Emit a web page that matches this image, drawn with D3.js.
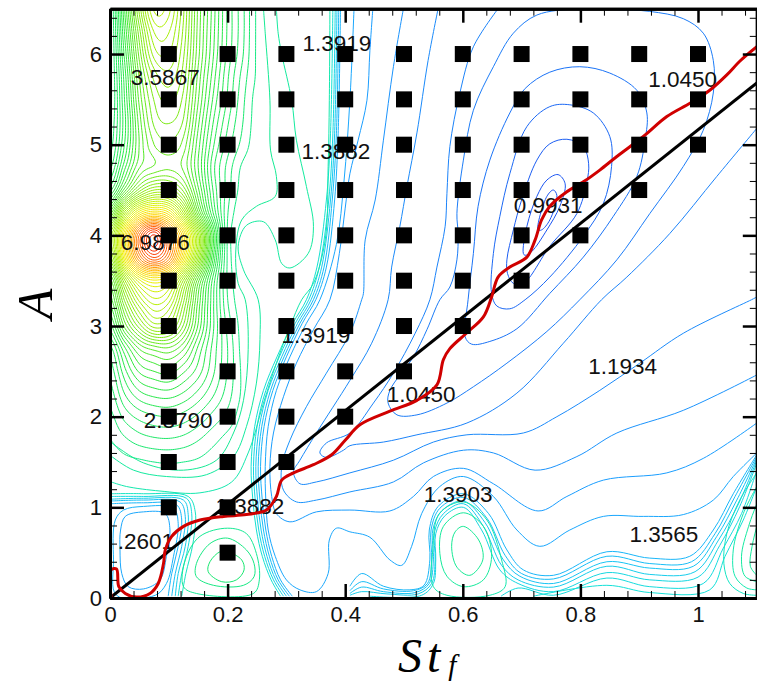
<!DOCTYPE html>
<html><head><meta charset="utf-8">
<script src="https://cdnjs.cloudflare.com/ajax/libs/d3/7.8.5/d3.min.js"></script>
<style>html,body{margin:0;background:#fff}svg{display:block}</style></head>
<body><svg id="c" width="757" height="683"></svg>
<script>
// Axis extents and ticks
const stDomain=[0,1.1], aDomain=[0,6.5];
const stMajor=[0,0.2,0.4,0.6,0.8,1];
const aMajor=[0,1,2,3,4,5,6];
const stMinor=[0.04,0.08,0.12,0.16,0.24,0.28,0.32,0.36,0.44,0.48,0.52,0.56,0.64,0.68,0.72,0.76,0.84,0.88,0.92,0.96,1.04,1.08];
const aMinor=[0.2,0.4,0.6,0.8,1.2,1.4,1.6,1.8,2.2,2.4,2.6,2.8,3.2,3.4,3.6,3.8,4.2,4.4,4.6,4.8,5.2,5.4,5.6,5.8,6.2,6.4];

// Sampled cases: St value and lowest A, up to A=6 every 0.5
const caseSt=[0.1,0.2,0.3,0.4,0.5,0.6,0.7,0.8,0.9,1.0];
const caseAmin=[1,0.5,1.5,2,2.5,3,3.5,4,4.5,5];

// Scalar field for the left high region, St=0..0.3 (step .025), A=6.5..1 (step .25)
const fieldSt=[0,.025,.05,.075,.1,.125,.15,.175,.2,.225,.25,.275,.3];
const fieldA=[6.5,6.25,6,5.75,5.5,5.25,5,4.75,4.5,4.25,4,3.75,3.5,3.25,3,2.75,2.5,2.25,2,1.75,1.5,1.25,1];
const fieldRows=[
[1.6,2.6,3.6,4.3,4.2,3.7,3.05,2.55,2.1,1.8,1.5,1.42,1.4],
[1.6,2.5,3.4,4.05,4.05,3.65,3.03,2.53,2.1,1.8,1.5,1.42,1.4],
[1.6,2.4,3.25,3.85,3.92,3.58,3.0,2.5,2.08,1.78,1.5,1.42,1.4],
[1.6,2.3,3.1,3.6,3.75,3.5,2.92,2.43,2.02,1.72,1.5,1.42,1.4],
[1.6,2.25,3.0,3.45,3.6,3.4,2.85,2.35,1.98,1.68,1.47,1.42,1.4],
[1.65,2.2,2.9,3.35,3.45,3.3,2.75,2.25,1.9,1.65,1.46,1.42,1.4],
[1.7,2.25,2.85,3.2,3.3,3.15,2.65,2.15,1.82,1.6,1.45,1.42,1.4],
[1.85,2.45,2.95,3.1,3.17,3.05,2.6,2.05,1.72,1.5,1.44,1.42,1.4],
[2.2,2.9,3.5,3.8,3.75,3.4,2.75,2.12,1.7,1.47,1.43,1.41,1.4],
[3.0,4.1,4.85,5.1,4.9,4.15,3.1,2.25,1.65,1.43,1.42,1.41,1.4],
[3.85,5.0,6.1,6.7,6.0,5.15,4.0,2.65,1.62,1.42,1.42,1.41,1.4],
[3.6,4.85,5.85,6.3,5.9,4.95,3.8,2.5,1.62,1.42,1.42,1.41,1.4],
[2.9,3.9,4.6,4.85,4.65,3.9,3.0,2.2,1.62,1.43,1.42,1.41,1.4],
[2.6,3.4,4.0,4.3,4.15,3.55,2.8,2.15,1.65,1.45,1.42,1.41,1.4],
[2.3,3.0,3.5,3.85,3.75,3.3,2.7,2.15,1.72,1.47,1.42,1.41,1.4],
[1.95,2.45,2.85,3.0,3.05,2.85,2.45,2.08,1.76,1.48,1.43,1.41,1.39],
[1.8,2.2,2.5,2.6,2.65,2.5,2.3,2.03,1.75,1.5,1.44,1.4,1.38],
[1.7,2.0,2.2,2.28,2.3,2.22,2.08,1.9,1.7,1.5,1.44,1.38,1.36],
[1.6,1.8,1.92,1.98,2.0,1.95,1.85,1.72,1.6,1.46,1.42,1.36,1.3],
[1.52,1.62,1.7,1.74,1.75,1.72,1.65,1.56,1.48,1.42,1.38,1.3,1.2],
[1.44,1.48,1.5,1.52,1.53,1.52,1.5,1.46,1.42,1.38,1.34,1.22,1.15],
[1.42,1.42,1.42,1.42,1.42,1.42,1.42,1.42,1.41,1.38,1.3,1.15,1.1],
[1.3,1.3,1.3,1.3,1.3,1.3,1.3,1.3,1.35,1.3,1.2,1.1,1.05]];
const fieldLevelStart=1.52, fieldLevelEnd=7.0, fieldLevelStep=0.12;

// Contour lines: level, points [St,A]
const closedLines=[
[0.995,[[.728,4.06],[.743,4.43],[.754,4.50],[.760,4.44],[.748,4.17],[.734,4.06]]],
[1.0,[[.703,3.80],[.709,4.10],[.726,4.43],[.743,4.61],[.762,4.67],[.774,4.57],[.765,4.32],[.743,4.06],[.717,3.82],[.706,3.78]]],
[1.02,[[.675,3.73],[.686,4.06],[.700,4.39],[.726,4.83],[.748,5.01],[.777,5.06],[.805,4.98],[.814,4.79],[.811,4.59],[.794,4.24],[.748,3.88],[.703,3.47],[.686,3.47],[.676,3.58]]],
[1.045,[[.652,3.80],[.663,4.21],[.680,4.68],[.709,5.20],[.748,5.42],[.782,5.44],[.822,5.35],[.850,5.09],[.853,4.76],[.839,4.35],[.805,3.99],[.748,3.54],[.706,3.29],[.680,3.19],[.658,3.22],[.649,3.36]]],
[1.07,[[.706,5.62],[.748,5.80],[.799,5.86],[.850,5.79],[.896,5.60],[.913,5.35],[.910,5.05],[.896,4.65],[.856,4.21],[.805,3.76],[.748,3.36],[.692,2.97],[.646,2.83],[.615,2.80],[.604,2.88],[.609,3.29],[.618,3.80],[.626,4.32],[.646,4.83],[.680,5.35]]],
[1.09,[[.799,6.50],[.726,6.43],[.686,6.23],[.652,5.86],[.618,5.38],[.601,4.83],[.590,4.24],[.592,4.02],[.590,3.73],[.578,3.43],[.561,3.29],[.539,2.96],[.516,2.66],[.476,2.29],[.473,2.15],[.488,2.02],[.522,2.02],[.573,2.15],[.618,2.33],[.675,2.59],[.743,2.94],[.799,3.29],[.862,3.73],[.918,4.24],[.975,4.76],[1.009,5.16],[1.026,5.57],[1.026,5.93],[1.009,6.23],[.975,6.39],[.918,6.47],[.862,6.49]]],
[1.45,[[.601,.79],[.627,.64],[.634,.42],[.612,.25],[.590,.34],[.581,.57],[.587,.73]]],
[1.42,[[.601,.94],[.635,.79],[.649,.46],[.635,.20],[.601,.125],[.573,.24],[.561,.49],[.567,.79]]],
[1.39,[[.601,1.06],[.641,.86],[.666,.42],[.672,.125],[.646,.03],[.573,.03],[.550,.125],[.549,.53],[.560,.93]]],
[1.6,[[.2,.51],[.224,.42],[.228,.31],[.215,.20],[.19,.18],[.167,.29],[.17,.40],[.187,.51]]],
[1.52,[[.2,.66],[.17,.60],[.147,.38],[.147,.235],[.176,.14],[.227,.14],[.245,.235],[.245,.38],[.232,.53]]],
[1.45,[[.2,.77],[.153,.68],[.128,.42],[.125,.125],[.147,.05],[.244,.05],[.254,.2],[.249,.49],[.232,.71]]],
[1.22,[[.018,.75],[.026,.90],[.057,.95],[.094,.93],[.102,.75],[.096,.46],[.085,.20],[.057,.10],[.031,.125],[.02,.27],[.017,.53]]],
[1.25,[[.009,.86],[.023,.97],[.057,1.01],[.108,.99],[.116,.82],[.108,.46],[.096,.16],[.077,.03],[.011,.03],[.006,.42]]]
];
const openLines=[
[1.11,[[.660,6.5],[.618,6.08],[.595,5.57],[.578,4.98],[.573,4.46],[.570,4.10],[.556,3.65],[.544,3.29],[.519,2.92],[.482,2.48],[.448,2.15],[.408,1.82],[.368,1.71],[.357,1.60],[.368,1.55],[.397,1.63],[.408,1.68],[.465,1.72],[.522,1.80],[.607,1.93],[.692,2.26],[.771,2.81],[.836,3.29],[.879,3.54],[.952,4.02],[1.032,4.65],[1.10,5.18]]],
[1.13,[[.558,6.5],[.541,5.93],[.522,5.13],[.505,4.54],[.493,4.10],[.479,3.65],[.473,3.29],[.445,2.81],[.408,2.40],[.351,1.82],[.323,1.52],[.312,1.39],[.323,1.26],[.351,1.28],[.408,1.38],[.482,1.52],[.550,1.72],[.607,1.80],[.703,1.82],[.760,2.00],[.833,2.29],[.901,2.59],[.975,2.92],[1.091,3.29],[1.10,3.32]]],
[1.16,[[.499,6.5],[.482,5.86],[.465,5.05],[.451,4.39],[.434,3.95],[.431,3.36],[.428,3.29],[.408,2.92],[.368,2.48],[.334,2.11],[.306,1.74],[.292,1.45],[.295,1.19],[.317,1.06],[.351,1.08],[.408,1.17],[.482,1.28],[.533,1.49],[.601,1.63],[.652,1.60],[.723,1.41],[.794,1.56],[.862,1.82],[.975,2.07],[1.10,2.46]]],
[1.19,[[.447,6.5],[.442,6.04],[.437,5.49],[.422,5.05],[.408,4.68],[.40,4.3],[.39,3.8],[.374,3.29],[.346,2.96],[.317,2.59],[.295,2.22],[.278,1.82],[.272,1.45],[.275,1.12],[.283,.93],[.306,.84],[.351,.95],[.408,.97],[.476,.96],[.516,1.12],[.550,1.34],[.601,1.43],[.652,1.26],[.728,.96],[.777,1.12],[.839,1.30],[.947,1.38],[1.009,1.54],[1.10,1.93]]],
[1.22,[[.415,6.5],[.408,5.49],[.398,4.6],[.385,3.9],[.357,3.29],[.334,3.03],[.306,2.66],[.283,2.29],[.269,1.89],[.264,1.45],[.265,1.08],[.269,.75],[.281,.46],[.300,.20],[.323,.09],[.351,.07],[.371,.27],[.373,.64],[.385,.77],[.408,.73],[.442,.67],[.476,.42],[.496,.36],[.513,.57],[.530,.93],[.561,1.23],[.601,1.34],[.652,1.12],[.692,.75],[.731,.57],[.782,.75],[.839,.90],[.907,.90],[.975,.92],[1.026,1.08],[1.06,1.34],[1.10,1.60]]],
[1.26,[[.408,.13],[.428,.27],[.465,.13],[.510,.09],[.534,.14],[.544,.42],[.543,.75],[.558,1.01],[.601,1.15],[.644,.93],[.675,.53],[.703,.31],[.754,.25],[.845,.51],[.918,.44],[.986,.46],[1.026,.75],[1.06,1.15],[1.10,1.58]]],
[1.28,[[.408,.08],[.428,.18],[.465,.10],[.516,.08],[.540,.16],[.547,.42],[.546,.75],[.561,.99],[.601,1.11],[.641,.88],[.672,.47],[.700,.27],[.754,.21],[.845,.46],[.918,.38],[.989,.40],[1.029,.71],[1.063,1.12],[1.10,1.56]]],
[1.30,[[.408,.05],[.428,.12],[.465,.07],[.519,.06],[.543,.16],[.550,.42],[.549,.75],[.564,.96],[.601,1.07],[.638,.83],[.669,.42],[.697,.24],[.754,.16],[.845,.40],[.918,.33],[.992,.35],[1.032,.68],[1.066,1.08],[1.10,1.54]]],
[1.32,[[.408,.03],[.428,.07],[.471,.045],[.524,.045],[.547,.16],[.553,.42],[.552,.73],[.567,.93],[.601,1.04],[.635,.79],[.666,.36],[.694,.20],[.754,.12],[.845,.35],[.918,.26],[.995,.29],[1.035,.64],[1.069,1.04],[1.10,1.52]]],
[1.34,[[.442,.02],[.530,.03],[.550,.16],[.554,.42],[.554,.71],[.570,.91],[.601,1.0],[.632,.75],[.663,.31],[.694,.16],[.754,.07],[.845,.28],[.918,.20],[1.0,.23],[1.037,.58],[1.071,1.01],[1.10,1.49]]],
[1.35,[[.665,.02],[.694,.11],[.754,.03],[.845,.22],[.918,.125],[1.009,.16],[1.043,.55],[1.074,.93],[1.10,1.41]]],
[1.36,[[.72,.02],[.845,.14],[.918,.06],[1.02,.09],[1.046,.46],[1.077,.86],[1.10,1.23]]],
[1.375,[[1.10,1.38],[1.071,1.08],[1.049,.71],[1.044,.38],[1.054,.16],[1.077,.05],[1.10,.03]]],
[1.39,[[1.10,1.23],[1.077,.93],[1.06,.53],[1.063,.24],[1.083,.11],[1.10,.09]]],
[1.40,[[1.10,1.04],[1.086,.79],[1.074,.46],[1.08,.24],[1.10,.18]]],
[1.42,[[1.10,.79],[1.092,.57],[1.089,.35],[1.10,.25]]],
[1.25,[[.392,6.5],[.388,5.12],[.382,4.39],[.368,3.65],[.350,3.29],[.327,3.03],[.300,2.66],[.277,2.29],[.262,1.89],[.256,1.45],[.259,1.08],[.265,.75],[.275,.46],[.290,.2],[.31,.02]]],
[1.28,[[.389,6.5],[.385,5.12],[.378,4.39],[.364,3.65],[.346,3.29],[.323,3.03],[.296,2.66],[.273,2.29],[.258,1.89],[.252,1.45],[.255,1.08],[.261,.75],[.271,.46],[.286,.2],[.305,.02]]],
[1.31,[[.386,6.5],[.382,5.12],[.375,4.39],[.360,3.65],[.342,3.29],[.319,3.03],[.292,2.66],[.269,2.29],[.254,1.89],[.248,1.45],[.251,1.08],[.257,.75],[.267,.46],[.282,.2],[.300,.02]]],
[1.34,[[.383,6.5],[.379,5.12],[.372,4.39],[.356,3.65],[.338,3.29],[.315,3.03],[.288,2.66],[.265,2.29],[.250,1.89],[.244,1.45],[.247,1.08],[.253,.75],[.263,.46],[.278,.2],[.295,.02]]],
[1.365,[[.379,6.5],[.375,5.12],[.368,4.39],[.352,3.65],[.334,3.29],[.311,3.03],[.284,2.66],[.261,2.29],[.246,1.89],[.240,1.45],[.243,1.08],[.249,.75],[.259,.46],[.274,.2],[.290,.02]]],
[1.39,[[.374,6.5],[.373,5.49],[.371,4.76],[.366,3.95],[.346,3.47],[.326,3.29],[.306,2.99],[.283,2.59],[.261,2.15],[.235,1.60],[.207,1.28],[.153,1.16],[.085,1.18],[.028,1.23],[.002,1.28]]],
[1.41,[[.283,6.5],[.286,6.23],[.292,6.0],[.309,5.49],[.317,5.05],[.334,4.54],[.346,4.10],[.337,3.80],[.306,3.64],[.292,3.69],[.281,3.95],[.261,4.15],[.232,4.11],[.218,3.88],[.227,3.62],[.252,3.29],[.255,2.85],[.249,2.37],[.232,1.89],[.210,1.56],[.164,1.36],[.096,1.34],[.04,1.41],[.003,1.56]]],
[1.45,[[.261,6.5],[.264,6.23],[.272,5.49],[.273,4.94],[.283,4.65],[.281,4.43],[.249,4.32],[.224,4.17],[.214,3.84],[.218,3.47],[.230,3.29],[.235,2.74],[.227,2.18],[.21,1.82],[.181,1.52],[.125,1.41],[.057,1.49],[.003,1.71]]],
[1.26,[[.002,1.04],[.057,1.05],[.113,1.03],[.122,.86],[.116,.57],[.105,.27],[.099,.02]]],
[1.29,[[.002,1.07],[.057,1.08],[.119,1.06],[.128,.90],[.122,.57],[.111,.27],[.105,.02]]],
[1.32,[[.002,1.09],[.057,1.10],[.125,1.08],[.133,.92],[.128,.57],[.116,.27],[.111,.02]]],
[1.35,[[.002,1.12],[.057,1.12],[.130,1.10],[.139,.93],[.133,.57],[.122,.27],[.116,.02]]],
[1.375,[[.002,1.15],[.057,1.15],[.133,1.12],[.145,.95],[.141,.60],[.129,.27],[.122,.02]]]
];
// Colour map stops: level → colour
const levelStops=[.99,1.1,1.2,1.3,1.36,1.4,1.6,2.5,3.5,4.3,4.8,5.3,5.8,6.3,6.8];
const levelColors=["#1a50f0","#1c80f8","#1aa0ff","#18c4f4","#14e0d8","#14eaa0","#18e870","#2ce838","#80e810","#b8f000","#f0f000","#ffd000","#ff9000","#ff5000","#f01000"];

// Thick curves
const redCurve=[[.002,0],[.002,.31],[.011,.32],[.015,.125],[.026,.05],[.045,.01],[.068,.05],[.082,.16],[.091,.38],[.094,.53],[.105,.68],[.125,.79],[.153,.86],[.193,.90],[.232,.92],[.266,.97],[.283,1.12],[.292,1.30],[.312,1.38],[.346,1.47],[.377,1.58],[.400,1.74],[.425,1.91],[.476,2.06],[.522,2.18],[.556,2.35],[.567,2.63],[.578,2.75],[.606,2.92],[.635,3.10],[.649,3.32],[.660,3.54],[.680,3.65],[.709,3.76],[.723,3.95],[.734,4.17],[.748,4.32],[.777,4.48],[.805,4.59],[.833,4.72],[.862,4.87],[.907,5.09],[.947,5.31],[.987,5.46],[1.02,5.60],[1.049,5.77],[1.071,5.92],[1.10,6.08]];
const blackLine=[[0,0],[1.1,5.68]];

// Extremum labels
const labelText=["1.3919","3.5867","1.3882","1.0450","0.9931","6.9876","1.3919","1.1934","1.0450","2.8790","1.3903","1.3882","1.3565",".2601"];
const labelSt=[.386,.094,.384,.974,.745,.077,.35,.872,.529,.116,.592,.238,.942,.061];
const labelA=[6.12,5.74,4.93,5.72,4.33,3.92,2.90,2.56,2.25,1.96,1.15,1.01,0.70,0.63];

const W=757,H=683;
const x=d3.scaleLinear().domain(stDomain).range([110,756.8]);
const y=d3.scaleLinear().domain(aDomain).range([598,8.7]);
const color=d3.scaleLinear().domain(levelStops).range(levelColors).clamp(true);
const svg=d3.select("#c");
svg.append("defs").append("clipPath").attr("id","plot").append("rect")
  .attr("x",110).attr("y",8.7).attr("width",646.8).attr("height",589.3);
const plot=svg.append("g").attr("clip-path","url(#plot)");

// field contours with cubic upsampling of the read grid
const f=8, nc=fieldSt.length, nr=fieldA.length;
function cr(p0,p1,p2,p3,t){return p1+.5*t*(p2-p0+t*(2*p0-5*p1+4*p2-p3+t*(3*(p1-p2)+p3-p0)));}
const at=(r,c)=>fieldRows[Math.max(0,Math.min(nr-1,r))][Math.max(0,Math.min(nc-1,c))];
const gw=(nc-1)*f+1, gh=(nr-1)*f+1, grid=new Float64Array(gw*gh);
for(let j=0;j<gh;j++){const rr=j/f,r0=Math.min(nr-2,Math.floor(rr)),tr=rr-r0;
  for(let i=0;i<gw;i++){const cc=i/f,c0=Math.min(nc-2,Math.floor(cc)),tc=cc-c0;
    const row=k=>cr(at(r0+k,c0-1),at(r0+k,c0),at(r0+k,c0+1),at(r0+k,c0+2),tc);
    grid[j*gw+i]=cr(row(-1),row(0),row(1),row(2),tr);}}
const thresholds=d3.range(fieldLevelStart,fieldLevelEnd,fieldLevelStep);
const stStep=fieldSt[1]-fieldSt[0], aStep=fieldA[0]-fieldA[1];
const proj=d3.geoTransform({point(px,py){this.stream.point(x((px-.5)/f*stStep),y(fieldA[0]-(py-.5)/f*aStep));}});
const geo=d3.geoPath(proj);
plot.selectAll("path.fc").data(d3.contours().size([gw,gh]).thresholds(thresholds)(grid)).join("path")
  .attr("class","fc").attr("d",geo).attr("fill","none").attr("stroke",d=>color(d.value)).attr("stroke-width",1);

const lineOpen=d3.line().x(d=>x(d[0])).y(d=>y(d[1])).curve(d3.curveCatmullRom.alpha(.5));
const lineClosed=d3.line().x(d=>x(d[0])).y(d=>y(d[1])).curve(d3.curveCatmullRomClosed.alpha(.5));
plot.selectAll("path.ol").data(openLines).join("path").attr("class","ol").attr("d",d=>lineOpen(d[1]))
  .attr("fill","none").attr("stroke",d=>color(d[0])).attr("stroke-width",1);
plot.selectAll("path.cl").data(closedLines).join("path").attr("class","cl").attr("d",d=>lineClosed(d[1]))
  .attr("fill","none").attr("stroke",d=>color(d[0])).attr("stroke-width",1);

// labels
svg.append("g").selectAll("text").data(labelText).join("text").text(d=>d)
  .attr("x",(d,i)=>x(labelSt[i])).attr("y",(d,i)=>y(labelA[i])).attr("dy",".35em").attr("text-anchor","middle")
  .attr("font-family","Liberation Sans").attr("font-size",22.5).attr("fill","#111");

// thick lines
const svgTop=svg.append("g").attr("clip-path","url(#plot)");
svgTop.append("path").attr("d",d3.line().x(d=>x(d[0])).y(d=>y(d[1]))(blackLine)).attr("stroke","#000").attr("stroke-width",3).attr("fill","none");
svgTop.append("path").attr("d",lineOpen(redCurve)).attr("stroke","#d00000").attr("stroke-width",3).attr("fill","none");

// squares
const cases=caseSt.flatMap((s,i)=>d3.range(caseAmin[i],6.01,.5).map(a=>[s,a]));
svg.append("g").selectAll("rect").data(cases).join("rect")
  .attr("x",d=>x(d[0])-8).attr("y",d=>y(d[1])-8).attr("width",16).attr("height",16).attr("fill","#000");

// axes
function ax(gen,tr,vals,size,width,labels){
  const g=svg.append("g").attr("transform",tr).call(gen.tickValues(vals).tickSize(-size).tickSizeOuter(0).tickPadding(labels?8:0).tickFormat(labels?(d=>d3.format("~g")(d)):""));
  g.selectAll(".tick line").attr("stroke","#000").attr("stroke-width",width);
  g.select(".domain").attr("stroke","#000").attr("stroke-width",3);
  g.selectAll("text").attr("font-family","Liberation Sans").attr("font-size",22).attr("fill","#111");
  return g;
}
const b=`translate(0,${y(0)})`,t=`translate(0,${y(6.5)})`,l=`translate(${x(0)},0)`,r=`translate(${x(1.1)},0)`;
ax(d3.axisBottom(x),b,stMinor,7,1,false);ax(d3.axisBottom(x),b,stMajor,14,2.5,true);
ax(d3.axisTop(x),t,stMinor,7,1,false);ax(d3.axisTop(x),t,stMajor,14,2.5,false);
ax(d3.axisLeft(y),l,aMinor,7,1,false);ax(d3.axisLeft(y),l,aMajor,14,2.5,true);
ax(d3.axisRight(y),r,aMinor,7,1,false);ax(d3.axisRight(y),r,aMajor,14,2.5,false);

// titles
const stTitle=svg.append("text").attr("x",398).attr("y",672)
  .attr("font-family","Liberation Serif").attr("font-style","italic").attr("font-size",48);
stTitle.append("tspan").attr("letter-spacing",5).text("St");
stTitle.append("tspan").attr("font-size",29).attr("dy",3).attr("dx",3).text("f");
svg.append("text").attr("transform","translate(52,304) rotate(-90)").attr("text-anchor","middle")
  .attr("font-family","Liberation Serif").attr("font-style","italic").attr("font-size",50).text("A");
</script></body></html>
